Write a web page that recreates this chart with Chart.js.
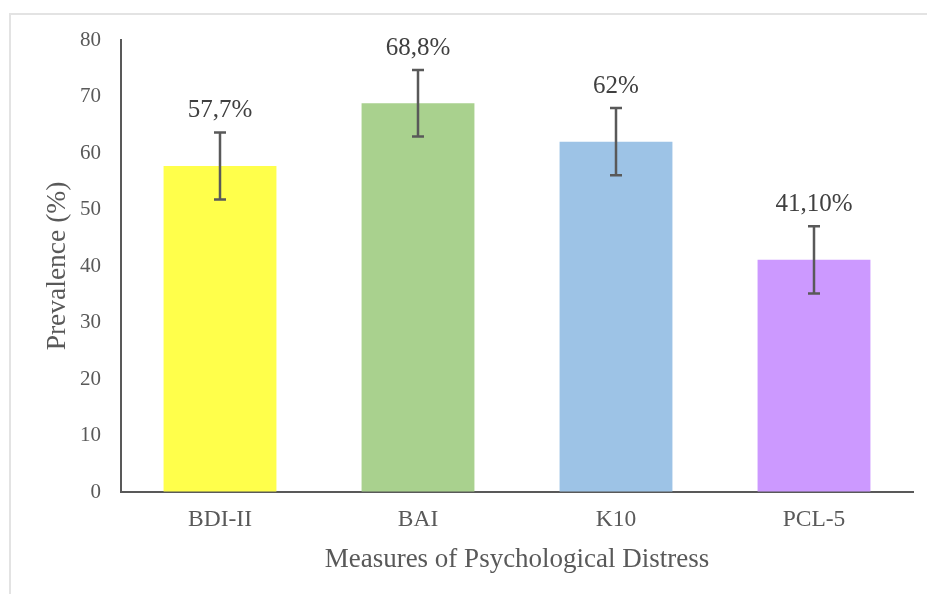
<!DOCTYPE html>
<html>
<head>
<meta charset="utf-8">
<script src="https://cdn.jsdelivr.net/npm/chart.js@4/dist/chart.umd.min.js"></script>
<style>
  html, body { margin: 0; padding: 0; background: #fff; }
  #wrap { position: relative; width: 927px; height: 594px; overflow: hidden; }
  #frame { position: absolute; left: 9px; top: 13px; width: 940px; height: 620px; border: 2px solid #e3e3e3; box-sizing: border-box; pointer-events: none; }
  canvas { position: absolute; left: 0; top: 0; }
</style>
</head>
<body>
<div id="wrap">
  <canvas id="c" width="927" height="594"></canvas>
  <div id="frame"></div>
</div>
<script>
const categories = ['BDI-II', 'BAI', 'K10', 'PCL-5'];
const prevalence = [57.7, 68.8, 62.0, 41.1];
const errorMargin = [5.95, 5.9, 5.95, 5.95];
const valueLabels = ['57,7%', '68,8%', '62%', '41,10%'];
const barColors = ['#FFFF4B', '#A9D18E', '#9DC3E6', '#CC99FF'];
const yTicks = [0, 10, 20, 30, 40, 50, 60, 70, 80];

const FONT = "'Liberation Serif', 'Times New Roman', serif";
const GREY = '#595959';

const errorBarsPlugin = {
  id: 'errorBars',
  afterDatasetsDraw(chart) {
    const ctx = chart.ctx;
    const y = chart.scales.y;
    const meta = chart.getDatasetMeta(0);
    ctx.save();
    ctx.strokeStyle = GREY;
    ctx.lineWidth = 2.5;
    meta.data.forEach((bar, i) => {
      const v = prevalence[i], e = errorMargin[i];
      const top = y.getPixelForValue(v + e);
      const bot = y.getPixelForValue(v - e);
      const x = bar.x;
      ctx.beginPath();
      ctx.moveTo(x, top); ctx.lineTo(x, bot);
      ctx.moveTo(x - 6, top); ctx.lineTo(x + 6, top);
      ctx.moveTo(x - 6, bot); ctx.lineTo(x + 6, bot);
      ctx.stroke();
      ctx.fillStyle = '#404040';
      ctx.font = '25px ' + FONT;
      ctx.textAlign = 'center';
      ctx.textBaseline = 'alphabetic';
      ctx.fillText(valueLabels[i], x, top - 15);
    });
    ctx.restore();
  }
};

new Chart(document.getElementById('c'), {
  type: 'bar',
  data: {
    labels: categories,
    datasets: [{
      data: prevalence,
      backgroundColor: barColors,
      borderWidth: 0,
      categoryPercentage: 1,
      barPercentage: 0.57
    }]
  },
  options: {
    responsive: false,
    animation: false,
    devicePixelRatio: 1,
    layout: { padding: { top: 40, right: 14, bottom: 0, left: 0 } },
    plugins: { legend: { display: false }, tooltip: { enabled: false } },
    scales: {
      x: {
        grid: { display: true, color: 'rgba(0,0,0,0)', drawTicks: false },
        border: { display: true, color: GREY, width: 2 },
        ticks: { color: GREY, font: { family: FONT, size: 23.5 }, padding: 14 },
        title: { display: true, text: 'Measures of Psychological Distress', color: GREY,
                 font: { family: FONT, size: 27, lineHeight: 1 }, padding: { top: 0, bottom: 21 } },
        afterFit(s) { s.height = 594 - 492; }
      },
      y: {
        min: 0, max: 80,
        afterBuildTicks(s) { s.ticks = yTicks.map(v => ({ value: v })); },
        grid: { display: true, color: 'rgba(0,0,0,0)', drawTicks: false },
        border: { display: true, color: GREY, width: 2 },
        ticks: { color: GREY, font: { family: FONT, size: 21 }, padding: 20 },
        title: { display: true, text: 'Prevalence (%)', color: GREY,
                 font: { family: FONT, size: 27.5, lineHeight: 1 }, padding: { top: 44, bottom: 0 } },
        afterFit(s) { s.width = 121; }
      }
    }
  },
  plugins: [errorBarsPlugin]
});
</script>
</body>
</html>
